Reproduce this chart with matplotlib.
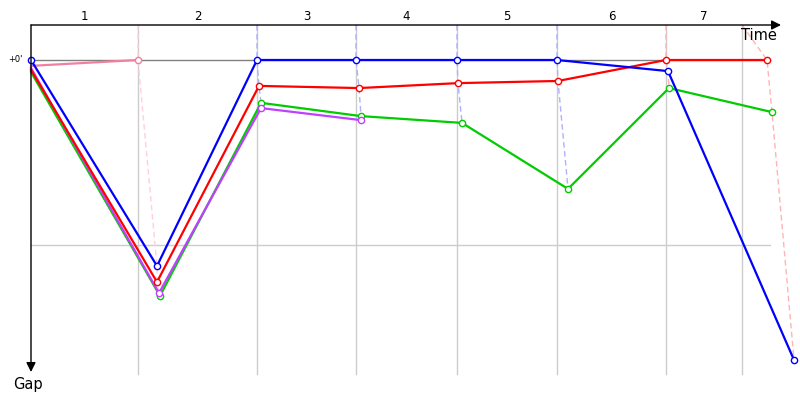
import matplotlib
matplotlib.use('Agg')
import matplotlib.pyplot as plt

# lap boundaries on the time axis (leader's crossing time)
lap_times = [107, 226, 325, 426, 526, 635, 711]
lap_labels = ['1', '2', '3', '4', '5', '6', '7']

# crossing times and gaps (s) per driver, start + each lap
blue_t = [0, 126, 226, 325, 426, 526, 637, 763]
blue_gap = [0, 66.8, 0, 0, 0, 0, 3.6, 97.3]
red_t = [0, 126, 228, 328, 427, 527, 635, 736]
red_gap = [3.2, 72.0, 8.4, 9.1, 7.5, 6.8, 0, 0]
green_t = [0, 129, 230, 330, 431, 537, 638, 741]
green_gap = [3.9, 76.5, 13.9, 18.2, 20.4, 41.8, 9.1, 16.9]
purple_t = [0, 128, 230, 330]
purple_gap = [2.6, 75.6, 15.6, 19.5]
pink_t = [0, 107]
pink_gap = [1.9, 0]

drivers = [
    (green_t, green_gap, '#00cc00', '#a0eea0'),
    (purple_t, purple_gap, '#c040ff', '#e0b0ff'),
    (pink_t, pink_gap, '#f080a0', '#ffd0dc'),
    (red_t, red_gap, '#ff0000', '#ffb4b4'),
    (blue_t, blue_gap, '#0000ff', '#b0b0ff'),
]

# pixel -> data mapping
xs = 1.0            # time units per px
ys = 60 / 185.0     # gap seconds per px
x0, y0 = 31, 60     # pixel of origin

def gy(py):
    return (py - y0) * ys

fig = plt.figure(figsize=(8, 4), dpi=100)
ax = fig.add_axes([0, 0, 1, 1])
ax.set_xlim(-x0 * xs, (800 - x0) * xs)
ax.set_ylim(gy(400), gy(0))
ax.axis('off')

top = gy(25)
bottom = gy(374)
right = 739

# grid
for t in lap_times:
    ax.plot([t, t], [top, bottom], color='#cccccc', lw=1, zorder=1)
ax.plot([0, right], [60, 60], color='#cccccc', lw=1, zorder=1)
ax.plot([0, right], [0, 0], color='#808080', lw=1, zorder=1)

# dashed lap lines, drawn through every driver's point of that lap
for i, t in enumerate(lap_times):
    pts = []
    for dt, dg, col, light in drivers:
        if len(dt) > i + 1:
            pts.append((dg[i + 1], dt[i + 1], light))
    pts.sort()
    lead_light = pts[0][2]
    xx = [t] + [p[1] for p in pts]
    yy = [top] + [p[0] for p in pts]
    ax.plot(xx, yy, color=lead_light, lw=1, ls=(0, (4, 2.5)), zorder=2)

# driver lines (only the leader's start point carries a marker)
for k, (dt, dg, col, light) in enumerate(drivers):
    first = 0 if col == '#0000ff' else 1
    ax.plot(dt, dg, color=col, lw=1.6, zorder=3 + k,
            marker='o', ms=4.5, mfc='white', mec=col, mew=1,
            markevery=list(range(first, len(dt))))

# axes with arrows
ax.annotate('', xy=(750, top), xytext=(0, top),
            arrowprops=dict(arrowstyle='-|>', color='black', lw=1,
                            mutation_scale=14, shrinkA=0, shrinkB=0), zorder=10)
ax.annotate('', xy=(0, gy(372)), xytext=(0, top),
            arrowprops=dict(arrowstyle='-|>', color='black', lw=1,
                            mutation_scale=14, shrinkA=0, shrinkB=0), zorder=10)

starts = [0] + lap_times
for i, lab in enumerate(lap_labels):
    ax.text((starts[i] + starts[i + 1]) / 2, gy(17), lab, ha='center', va='center',
            fontsize=8.5)

ax.text(759 - x0, gy(35), 'Time', ha='center', va='center', fontsize=10.5)
ax.text(28 - x0, gy(385), 'Gap', ha='center', va='center', fontsize=10.5)
ax.text(-16, 0, "+0'", ha='center', va='center', fontsize=6)

fig.savefig('out.png', dpi=100)
